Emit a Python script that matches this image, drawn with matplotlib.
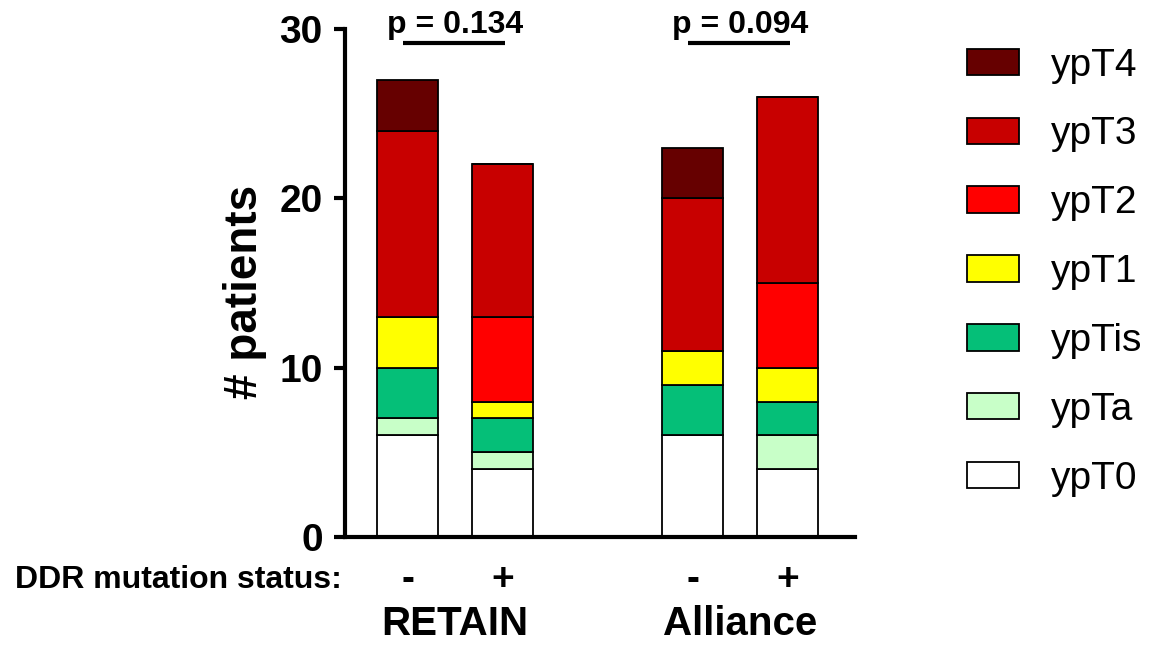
import matplotlib.pyplot as plt
import numpy as np

plt.rcParams["font.family"] = ["Liberation Sans", "DejaVu Sans"]

# stages from bottom to top
stages = ["ypT0", "ypTa", "ypTis", "ypT1", "ypT2", "ypT3", "ypT4"]
colors = ["#FFFFFF", "#C8FFC8", "#05BF78", "#FFFF00", "#FF0000", "#C80000", "#660000"]

# bars: RETAIN -, RETAIN +, Alliance -, Alliance +
ddr_status = ["-", "+", "-", "+"]
cohorts = ["RETAIN", "Alliance"]
ypT0 = [6, 4, 6, 4]
ypTa = [1, 1, 0, 2]
ypTis = [3, 2, 3, 2]
ypT1 = [3, 1, 2, 2]
ypT2 = [0, 5, 0, 5]
ypT3 = [11, 9, 9, 11]
ypT4 = [3, 0, 3, 0]
p_values = ["p = 0.134", "p = 0.094"]

counts = [ypT0, ypTa, ypTis, ypT1, ypT2, ypT3, ypT4]
xpos = np.array([0, 1, 3, 4])

W, H = 1151, 645
fig = plt.figure(figsize=(W / 100, H / 100), dpi=100)
ax = fig.add_axes([345 / W, 1 - 537 / H, 510 / W, 508 / H])

bottom = np.zeros(len(xpos))
handles = []
for name, vals, c in zip(stages, counts, colors):
    vals = np.array(vals, dtype=float)
    b = ax.bar(xpos, vals, bottom=bottom, width=0.64, color=c,
               edgecolor="black", linewidth=1.3, label=name)
    handles.append(b)
    bottom += vals

ax.set_xlim(-0.658, 4.71)
ax.set_ylim(0, 30)
ax.set_yticks([0, 10, 20, 30])
ax.tick_params(axis="y", labelsize=28, width=3, length=8, pad=8, direction="out")
for lbl in ax.get_yticklabels():
    lbl.set_fontweight("bold")
ax.set_xticks([])
for s in ["top", "right"]:
    ax.spines[s].set_visible(False)
ax.spines["left"].set_linewidth(3)
ax.spines["bottom"].set_linewidth(3)
fig.text(245 / W, 1 - 292 / H, "# patients", rotation=90, ha="center", va="center",
         fontsize=33, fontweight="bold")

# p-value brackets
for i, p in enumerate(p_values):
    x0, x1 = xpos[2 * i], xpos[2 * i + 1]
    ax.plot([x0 - 0.05, x1 + 0.03], [29.2, 29.2], color="black", lw=3,
            clip_on=False, solid_capstyle="butt")
    ax.text((x0 + x1) / 2, 29.76, p, ha="center", va="baseline",
            fontsize=23, fontweight="bold", clip_on=False)

# x labels
trans = ax.get_xaxis_transform()
for x, s in zip(xpos, ddr_status):
    ax.text(x, -0.085, s, transform=trans, ha="center", va="center",
            fontsize=28, fontweight="bold")
fig.text(15 / W, 1 - 588 / H, "DDR mutation status:", ha="left", va="baseline",
         fontsize=23, fontweight="bold")
for i, name in enumerate(cohorts):
    ax.text((xpos[2 * i] + xpos[2 * i + 1]) / 2, -0.193, name, transform=trans,
            ha="center", va="baseline", fontsize=29, fontweight="bold")

fig.legend(handles[::-1], stages[::-1], loc="upper left",
           bbox_to_anchor=(951 / W, 1 - 32 / H), frameon=False,
           fontsize=28, handlelength=1.34, handleheight=0.67,
           handletextpad=0.82, labelspacing=0.845, borderaxespad=0)

fig.savefig("out.png", dpi=100)
